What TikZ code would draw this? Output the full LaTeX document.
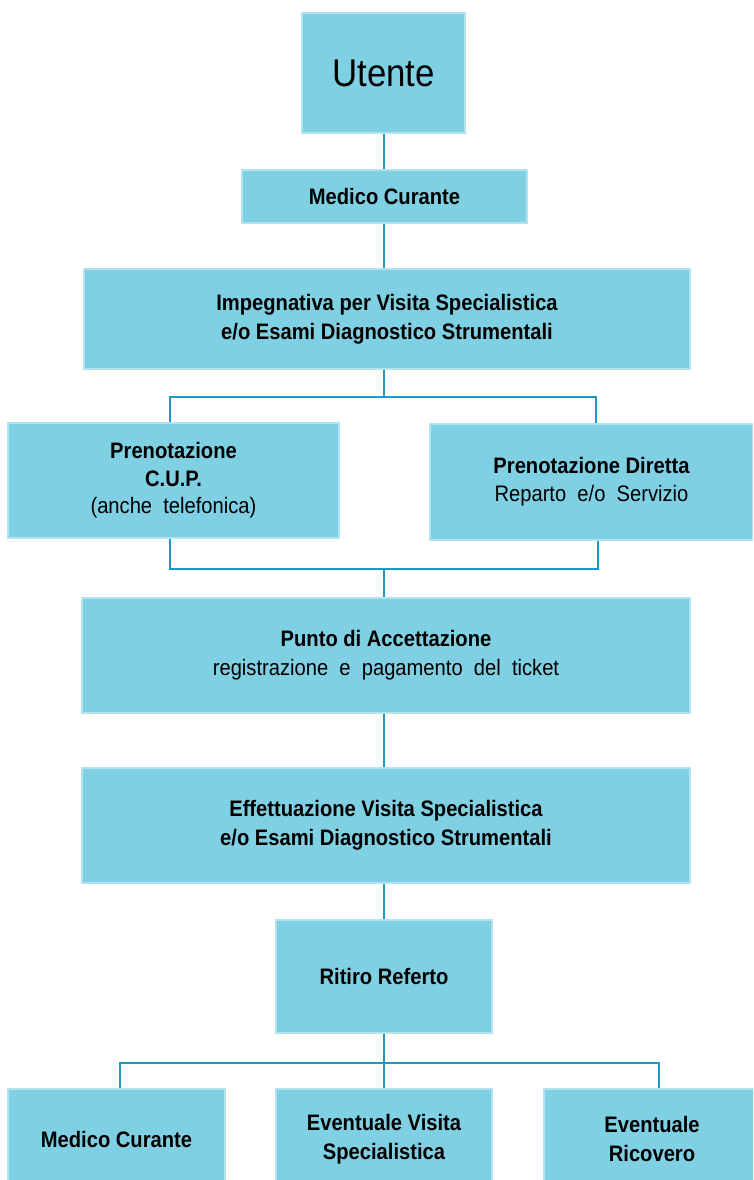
\documentclass[tikz,border=0pt]{standalone}
\usepackage{fontspec}
\setmainfont{Liberation Sans}[FakeStretch=0.9]
\begin{document}
\begin{tikzpicture}[x=0.75pt,y=-0.75pt,
  box/.style={draw=boxline,line width=0.8pt,fill=boxfill,inner sep=0pt,align=center,
    font=\fontsize{16.8}{21.5}\selectfont\bfseries},
  conn/.style={draw=connc,line width=1.5pt}]
\definecolor{boxfill}{HTML}{80D0E3}
\definecolor{boxline}{HTML}{B3E3EE}
\definecolor{connc}{HTML}{1A9AC6}
\useasboundingbox (0,0) rectangle (753,1180);
\clip (0,0) rectangle (753,1180);
\coordinate (trunk) at (384,0);
\coordinate (f1L) at (170,397);
\coordinate (f1R) at (596,397);
\coordinate (j1L) at (170,569);
\coordinate (j1R) at (598,569);
\coordinate (f2L) at (120,1063);
\coordinate (f2R) at (659,1063);
% nodes
\node[box,minimum width=122.25pt,minimum height=90pt,font=\fontsize{29}{32}\selectfont] (utente) at (383.5,73) {Utente};
\node[box,minimum width=213.75pt,minimum height=39.75pt] (med1) at (384.5,196.5) {Medico Curante};
\node[box,minimum width=454.5pt,minimum height=75pt] (imp) at (387,319) {Impegnativa per Visita Specialistica\\e/o Esami Diagnostico Strumentali};
\node[box,minimum width=248.25pt,minimum height=86.25pt,font=\fontsize{16.8}{20.5}\selectfont] (cup) at (173.5,480.5) {\bfseries Prenotazione\\\bfseries C.U.P.\\(anche\ \ telefonica)};
\node[box,minimum width=242.25pt,minimum height=87pt,font=\fontsize{16.8}{21}\selectfont] (dir) at (591.5,482) {\bfseries Prenotazione Diretta\\Reparto\ \ e/o\ \ Servizio};
\node[box,minimum width=456pt,minimum height=86.25pt,font=\fontsize{16.8}{22}\selectfont] (acc) at (386,655.5) {\bfseries Punto di Accettazione\\registrazione\ \ e\ \ pagamento\ \ del\ \ ticket};
\node[box,minimum width=456pt,minimum height=86.25pt] (eff) at (386,825.5) {Effettuazione Visita Specialistica\\e/o Esami Diagnostico Strumentali};
\node[box,minimum width=162pt,minimum height=84.75pt] (rit) at (384,976.5) {Ritiro Referto};
\node[box,minimum width=162.75pt,minimum height=75pt] (b1) at (116.5,1139) {Medico Curante};
\node[box,minimum width=162pt,minimum height=75pt] (b2) at (384,1139) {Eventuale Visita\\Specialistica};
\node[box,minimum width=162pt,minimum height=75pt] (b3) at (652,1139) {Eventuale\\Ricovero};
% connectors
\draw[conn] (trunk |- utente.south) -- (trunk |- med1.north);
\draw[conn] (trunk |- med1.south) -- (trunk |- imp.north);
\draw[conn] (trunk |- imp.south) -- (trunk |- f1L);
\draw[conn] (cup.north -| f1L) -- (f1L) -- (f1R) -- (dir.north -| f1R);
\draw[conn] (cup.south -| j1L) -- (j1L) -- (j1R) -- (dir.south -| j1R);
\draw[conn] (trunk |- j1L) -- (trunk |- acc.north);
\draw[conn] (trunk |- acc.south) -- (trunk |- eff.north);
\draw[conn] (trunk |- eff.south) -- (trunk |- rit.north);
\draw[conn] (trunk |- rit.south) -- (trunk |- b2.north);
\draw[conn] (b1.north -| f2L) -- (f2L) -- (f2R) -- (b3.north -| f2R);
\end{tikzpicture}
\end{document}
